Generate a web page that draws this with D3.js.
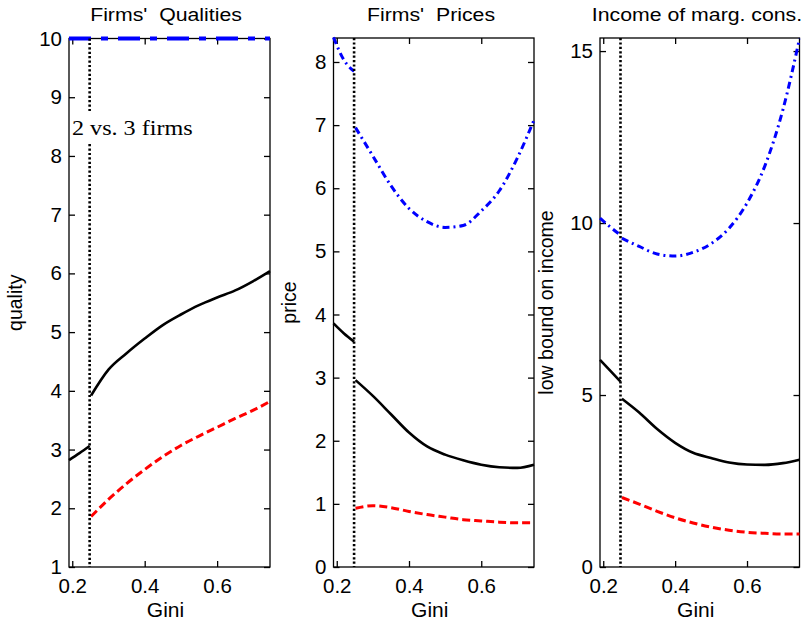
<!DOCTYPE html>
<html>
<head>
<meta charset="utf-8">
<script src="https://cdn.jsdelivr.net/npm/d3@7"></script>
<style>
  html, body { margin: 0; padding: 0; background: #fff; }
  svg { display: block; }
</style>
</head>
<body>
<svg id="chart" width="803" height="624"></svg>
<script>
// ---------------- data ----------------
const giniFull = [0.191, 0.746];
const gini2 = [0.191, 0.22, 0.248];            // 2-firm regime
const gini3 = [0.252, 0.30, 0.35, 0.40, 0.45, 0.50, 0.55, 0.60, 0.65, 0.70, 0.746]; // 3-firm regime
const switchGini = 0.248;

// Panel 1: quality
const qualityHigh = [10, 10];
const qualityMid2 = [2.82, 2.94, 3.06];
const qualityMid3 = [3.92, 4.36, 4.64, 4.89, 5.12, 5.30, 5.46, 5.59, 5.71, 5.87, 6.04];
const qualityLow3 = [1.86, 2.15, 2.42, 2.66, 2.88, 3.07, 3.23, 3.38, 3.53, 3.67, 3.82];

// Panel 2: price
const priceHigh2 = [8.39, 8.03, 7.85];
const priceHigh3 = [6.96, 6.51, 6.04, 5.68, 5.47, 5.38, 5.41, 5.64, 5.96, 6.48, 7.08];
const priceMid2 = [3.86, 3.70, 3.57];
const priceMid3 = [2.96, 2.71, 2.42, 2.13, 1.91, 1.78, 1.69, 1.62, 1.58, 1.57, 1.62];
const priceLow3 = [0.93, 0.97, 0.94, 0.88, 0.83, 0.79, 0.75, 0.73, 0.71, 0.70, 0.70];

// Panel 3: income of marginal consumer
const incomeHigh2 = [10.14, 9.88, 9.65];
const incomeHigh3 = [9.56, 9.32, 9.10, 9.04, 9.15, 9.40, 9.85, 10.58, 11.67, 13.30, 15.36];
const incomeMid2 = [6.02, 5.70, 5.39];
const incomeMid3 = [4.89, 4.49, 4.01, 3.61, 3.32, 3.17, 3.04, 2.98, 2.97, 3.02, 3.12];
const incomeLow3 = [2.02, 1.83, 1.62, 1.43, 1.28, 1.16, 1.07, 1.01, 0.98, 0.96, 0.96];

const xTicks = [0.2, 0.4, 0.6];
const titles = ["Firms'  Qualities", "Firms'  Prices", "Income of marg. cons."];
const yLabels = ["quality", "price", "low bound on income"];
const xLabel = "Gini";
const annotation = "2 vs. 3 firms";

// ---------------- layout ----------------
const panels = [
  { x0: 69, x1: 270, y0: 38.5, y1: 567, yDomain: [1, 10], yTicks: [1,2,3,4,5,6,7,8,9,10],
    title: titles[0], titleX: 166, yLabel: yLabels[0], yLabelX: 22,
    series: [
      { x: giniFull, y: qualityHigh, color: "#0000ff", dash: "22,10,7,10", w: 4 },
      { x: gini2, y: qualityMid2, color: "#000", dash: null, w: 2.6 },
      { x: gini3, y: qualityMid3, color: "#000", dash: null, w: 2.6 },
      { x: gini3, y: qualityLow3, color: "#ff0000", dash: "8,4", w: 3 }
    ], note: true },
  { x0: 333.5, x1: 534, y0: 38, y1: 567, yDomain: [0, 8.38], yTicks: [0,1,2,3,4,5,6,7,8],
    title: titles[1], titleX: 431, yLabel: yLabels[1], yLabelX: 296,
    series: [
      { x: gini2, y: priceHigh2, color: "#0000ff", dash: "7,4,2,4", w: 3 },
      { x: gini3, y: priceHigh3, color: "#0000ff", dash: "7,4,2,4", w: 3 },
      { x: gini2, y: priceMid2, color: "#000", dash: null, w: 2.6 },
      { x: gini3, y: priceMid3, color: "#000", dash: null, w: 2.6 },
      { x: gini3, y: priceLow3, color: "#ff0000", dash: "8,4", w: 3 }
    ] },
  { x0: 600, x1: 799.5, y0: 38, y1: 567, yDomain: [0, 15.38], yTicks: [0,5,10,15],
    title: titles[2], titleX: 697, yLabel: yLabels[2], yLabelX: 553,
    series: [
      { x: gini2, y: incomeHigh2, color: "#0000ff", dash: "7,4,2,4", w: 3 },
      { x: gini3, y: incomeHigh3, color: "#0000ff", dash: "7,4,2,4", w: 3 },
      { x: gini2, y: incomeMid2, color: "#000", dash: null, w: 2.6 },
      { x: gini3, y: incomeMid3, color: "#000", dash: null, w: 2.6 },
      { x: gini3, y: incomeLow3, color: "#ff0000", dash: "8,4", w: 3 }
    ] }
];

const svg = d3.select("#chart");
const FONT = "'Liberation Sans', Arial, Helvetica, sans-serif";

panels.forEach(p => {
  const x = d3.scaleLinear().domain([0.191, 0.746]).range([p.x0, p.x1]);
  const y = d3.scaleLinear().domain(p.yDomain).range([p.y1, p.y0]);
  const g = svg.append("g");

  // box
  g.append("rect").attr("x", p.x0).attr("y", p.y0)
    .attr("width", p.x1 - p.x0).attr("height", p.y1 - p.y0)
    .attr("fill", "none").attr("stroke", "#000").attr("stroke-width", 1.3);

  const styleAxis = (sel, labels) => {
    sel.select(".domain").remove();
    sel.selectAll(".tick line").attr("stroke", "#000").attr("stroke-width", 1.3);
    sel.selectAll(".tick text").attr("font-family", FONT).attr("font-size", 20.5)
      .attr("fill", "#000");
    if (!labels) sel.selectAll(".tick text").remove();
  };

  g.append("g").attr("transform", `translate(0,${p.y1})`)
    .call(d3.axisBottom(x).tickValues(xTicks).tickSizeInner(-6).tickSizeOuter(0)
      .tickPadding(11).tickFormat(d3.format(".1f")))
    .call(s => styleAxis(s, true));
  g.append("g").attr("transform", `translate(0,${p.y0})`)
    .call(d3.axisTop(x).tickValues(xTicks).tickSizeInner(-6).tickSizeOuter(0))
    .call(s => styleAxis(s, false));
  g.append("g").attr("transform", `translate(${p.x0},0)`)
    .call(d3.axisLeft(y).tickValues(p.yTicks).tickSizeInner(-6).tickSizeOuter(0)
      .tickPadding(7).tickFormat(d3.format("d")))
    .call(s => styleAxis(s, true));
  g.append("g").attr("transform", `translate(${p.x1},0)`)
    .call(d3.axisRight(y).tickValues(p.yTicks).tickSizeInner(-6).tickSizeOuter(0))
    .call(s => styleAxis(s, false));

  // series
  const line = d3.line().curve(d3.curveMonotoneX).x(d => x(d[0])).y(d => y(d[1]));
  p.series.forEach(s => {
    const pts = s.x.map((v, i) => [v, s.y[i]]);
    g.append("path").datum(pts).attr("d", line)
      .attr("fill", "none").attr("stroke", s.color).attr("stroke-width", s.w)
      .attr("stroke-dasharray", s.dash).attr("stroke-linejoin", "round");
  });

  // regime switch dotted line
  g.append("line").attr("x1", x(switchGini)).attr("x2", x(switchGini))
    .attr("y1", p.y0).attr("y2", p.y1)
    .attr("stroke", "#000").attr("stroke-width", 2.6).attr("stroke-dasharray", "2.2,2.2");

  if (p.note) {
    g.append("rect").attr("x", x(switchGini) - 5).attr("y", 112)
      .attr("width", 128).attr("height", 32).attr("fill", "#fff");
    g.append("text").attr("transform", `translate(${p.x0 + 3},135) scale(1.15,1)`)
      .attr("font-family", "'Liberation Serif', 'Times New Roman', serif")
      .attr("font-size", 21).attr("fill", "#000").text(annotation);
  }

  // title
  svg.append("text").attr("transform", `translate(${p.titleX},21) scale(1.15,1)`)
    .attr("text-anchor", "middle")
    .attr("font-family", FONT).attr("font-size", 18.5).attr("fill", "#000")
    .attr("xml:space", "preserve").style("white-space", "pre").text(p.title);

  // x label
  svg.append("text").attr("x", (p.x0 + p.x1) / 2 - 4).attr("y", 617).attr("text-anchor", "middle")
    .attr("font-family", FONT).attr("font-size", 21).attr("fill", "#000").text(xLabel);

  // y label
  svg.append("text")
    .attr("transform", `translate(${p.yLabelX},${(p.y0 + p.y1) / 2}) rotate(-90)`)
    .attr("text-anchor", "middle")
    .attr("font-family", FONT).attr("font-size", 19.5).attr("fill", "#000").text(p.yLabel);
});
</script>
</body>
</html>
